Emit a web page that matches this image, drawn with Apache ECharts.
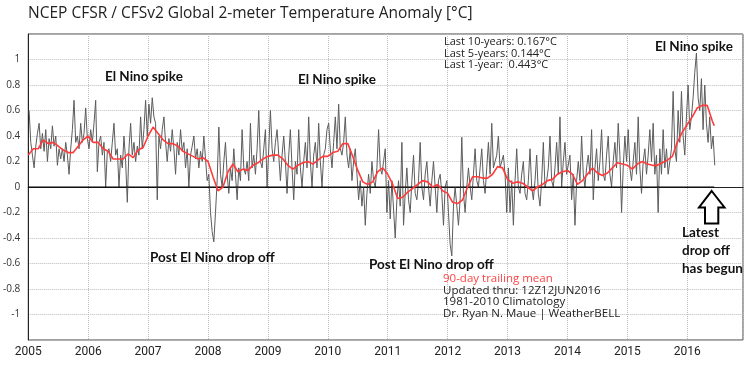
<!DOCTYPE html>
<html>
<head>
<meta charset="utf-8">
<script src="https://cdn.jsdelivr.net/npm/echarts@6/dist/echarts.min.js"></script>
<style>
body { margin: 0; padding: 0; background: #fff; }
#chart { width: 750px; height: 375px; }
</style>
</head>
<body>
<div id="chart"></div>
<script>
// gray trace: anomaly, 3 samples a month
const anom2005 = [0.60,0.35,0.25, 0.15,0.32,0.42, 0.50,0.30,0.42, 0.28,0.45,0.20, 0.38,0.30,0.48, 0.32,0.40,0.17, 0.30,0.22,0.30, 0.20,0.35,0.25, 0.10,0.30,0.45, 0.68,0.35,0.40, 0.30,0.50,0.35, 0.42,0.62,0.38]
const anom2006 = [0.30,0.45,0.35, 0.50,0.68,0.12, 0.35,0.40,0.25, 0.35,0.00,0.28, 0.30,0.20,0.35, 0.50,0.25,0.30, 0.00,0.25,0.15, 0.40,0.20,-0.12, 0.30,0.50,0.25, 0.35,0.20,0.32, 0.25,0.55,0.30, 0.45,0.68,0.40]
const anom2007 = [0.65,0.50,0.70, 0.55,0.50,-0.10, 0.40,0.30,0.45, 0.55,0.35,0.20, 0.38,0.28,0.45, 0.30,0.10,0.35, 0.25,0.45,0.28, 0.35,0.15,0.30, 0.00,0.25,0.32, 0.40,0.22,0.30, 0.15,0.28,0.20, 0.40,0.22,0.05]
const anom2008 = [0.10,-0.20,-0.35, -0.43,-0.20,0.05, 0.47,0.10,0.00, 0.20,0.35,0.10, -0.05,0.15,0.05, 0.30,0.10,-0.10, 0.15,0.05,0.45, 0.15,0.10,0.20, 0.05,0.50,0.15, 0.25,0.10,0.30, 0.60,0.20,0.15, 0.30,0.45,0.00]
const anom2009 = [0.30,0.60,0.30, 0.20,0.35,0.45, 0.25,0.05,0.25, 0.40,0.20,-0.05, 0.25,0.45,0.15, -0.10,0.20,0.10, 0.45,0.15,0.00, 0.20,0.35,0.15, 0.55,0.20,0.00, 0.25,0.35,0.15, 0.50,0.20,0.00, 0.25,0.30,0.45]
const anom2010 = [0.50,0.30,0.15, 0.35,0.55,0.30, 0.65,0.30,0.25, 0.35,0.55,0.25, 0.15,0.30,0.05, 0.20,0.30,0.10, -0.10,0.05,-0.15, 0.00,-0.30,-0.05, 0.10,-0.05,0.20, 0.05,0.00,0.15, 0.45,0.15,0.10, 0.20,0.30,-0.20]
const anom2011 = [0.05,-0.25,0.05, 0.05,-0.40,-0.10, 0.05,-0.15,0.35, -0.30,-0.05,0.15, -0.10,-0.20,0.05, 0.25,-0.05,-0.10, 0.05,0.35,0.00, -0.10,0.10,0.20, 0.00,-0.15,0.05, 0.20,0.00,-0.20, 0.05,0.10,-0.05, -0.30,0.00,0.05]
const anom2012 = [-0.20,-0.45,-0.54, -0.15,0.00,-0.15, -0.30,-0.10,0.39, -0.05,-0.20,0.00, 0.15,0.00,-0.10, 0.10,0.30,0.05, 0.00,0.15,0.30, 0.05,-0.05,0.15, 0.35,0.10,0.50, 0.15,0.20,0.25, 0.40,0.15,0.15, 0.25,0.10,-0.20]
const anom2013 = [0.15,-0.20,0.05, -0.30,0.05,0.30, 0.00,-0.05,0.10, 0.20,-0.05,-0.10, 0.05,0.30,0.00, -0.10,0.05,0.25, -0.05,-0.15,0.05, 0.35,0.00,0.05, 0.15,0.40,0.05, 0.00,0.15,0.35, 0.10,0.55,0.00, 0.20,0.35,0.10]
const anom2014 = [0.10,0.25,-0.10, 0.10,-0.30,0.05, 0.20,0.05,0.40, 0.10,0.00,0.15, 0.25,0.10,0.45, -0.10,0.15,0.30, 0.05,0.20,0.45, 0.10,0.05,0.25, 0.40,0.10,0.00, 0.20,0.35,0.15, 0.50,0.25,-0.20, 0.15,0.40,0.20]
const anom2015 = [0.45,0.15,0.05, 0.20,0.35,0.10, 0.55,0.15,-0.05, 0.20,0.30,0.10, 0.25,0.45,0.20, 0.50,0.10,0.25, -0.20,0.30,0.10, 0.45,0.15,0.30, 0.10,0.20,0.30, 0.75,0.30,0.20, 0.60,0.35,0.75, 0.40,0.25,0.55]
const anom2016 = [0.80,0.45,0.55, 0.70,0.90,1.05, 0.70,0.60,0.85, 0.45,0.80,0.50, 0.35,0.55,0.30, 0.40,0.17]

// red trace: 90-day trailing mean, one value at the start of each month
const mean2005 = [0.25,0.30,0.30,0.37,0.34,0.35,0.32,0.29,0.27,0.27,0.32,0.37]
const mean2006 = [0.40,0.35,0.35,0.30,0.28,0.22,0.22,0.22,0.26,0.23,0.29,0.31]
const mean2007 = [0.40,0.47,0.42,0.37,0.34,0.34,0.32,0.28,0.26,0.24,0.22,0.23]
const mean2008 = [0.20,0.08,-0.03,0.00,0.12,0.18,0.12,0.14,0.13,0.17,0.19,0.22]
const mean2009 = [0.24,0.25,0.25,0.22,0.17,0.14,0.17,0.19,0.20,0.18,0.21,0.24]
const mean2010 = [0.24,0.27,0.28,0.34,0.34,0.24,0.13,0.04,0.02,0.04,0.12,0.15]
const mean2011 = [0.10,0.02,-0.09,-0.08,-0.04,-0.01,0.02,0.05,0.04,0.00,0.02,-0.03]
const mean2012 = [-0.05,-0.12,-0.13,-0.10,0.00,0.08,0.08,0.07,0.07,0.10,0.16,0.15]
const mean2013 = [0.06,0.03,0.04,0.03,0.00,-0.03,0.00,0.02,0.05,0.06,0.10,0.12]
const mean2014 = [0.13,0.10,0.02,0.05,0.10,0.15,0.11,0.09,0.11,0.15,0.19,0.18]
const mean2015 = [0.17,0.14,0.18,0.20,0.18,0.17,0.17,0.19,0.21,0.24,0.35,0.43]
const mean2016 = [0.49,0.55,0.62,0.64,0.64,0.52]
const meanLast = [2016.45, 0.48]

const zeroLineYears = [2005, 2016.45]
const yearTicks = [2005, 2006, 2007, 2008, 2009, 2010, 2011, 2012, 2013, 2014, 2015, 2016]

const anomByYear = [anom2005, anom2006, anom2007, anom2008, anom2009, anom2010, anom2011, anom2012, anom2013, anom2014, anom2015, anom2016]
const meanByYear = [mean2005, mean2006, mean2007, mean2008, mean2009, mean2010, mean2011, mean2012, mean2013, mean2014, mean2015, mean2016]

const grayData = []
anomByYear.forEach((arr, i) => {
  arr.forEach((v, k) => grayData.push([yearTicks[i] + (k + 0.5) / 36, v]))
})
const redData = []
meanByYear.forEach((arr, i) => {
  arr.forEach((v, m) => redData.push([yearTicks[i] + m / 12, v]))
})
redData.push(meanLast)

const chart = echarts.init(document.getElementById('chart'))

const boldFont = 'bold 13.5px Lato'
const smallFont = '11px "Open Sans"'
const noteFont = '11.5px "Open Sans"'

// helper for the plain text labels drawn on top of the chart
const label = (x, y, text, font, fill) => ({
  type: 'text', x, y, z: 10,
  style: { text, font, fill, textVerticalAlign: 'middle', verticalAlign: 'middle' }
})

chart.setOption({
  animation: false,
  backgroundColor: '#fff',
  grid: {
    left: 27, right: 7, top: 34, bottom: 35,
    show: true, borderColor: '#444', borderWidth: 1
  },
  xAxis: {
    type: 'value',
    min: 2005,
    max: 2016.93,
    interval: 1,
    axisLine: { show: true, lineStyle: { color: '#222' } },
    axisTick: { show: false },
    axisLabel: {
      showMaxLabel: false,
      color: '#222', fontSize: 12, fontFamily: 'Roboto', margin: 6,
      formatter: v => String(v)
    },
    splitLine: { show: true, lineStyle: { type: 'dotted', color: '#bbb' } }
  },
  yAxis: {
    type: 'value',
    min: -1.2,
    max: 1.2,
    interval: 0.2,
    axisLine: { show: true, lineStyle: { color: '#222' } },
    axisTick: { show: false },
    axisLabel: {
      color: '#333', fontSize: 10, fontFamily: 'Open Sans', margin: 8,
      formatter: v => Math.abs(v) > 1.1 ? '' : String(Math.round(v * 10) / 10)
    },
    splitLine: { show: true, lineStyle: { type: 'dotted', color: '#bbb' } }
  },
  series: [
    {
      type: 'line',
      data: grayData,
      showSymbol: false,
      lineStyle: { color: '#5c5c5c', width: 1 },
      z: 2
    },
    {
      type: 'line',
      data: zeroLineYears.map(y => [y, 0]),
      showSymbol: false,
      lineStyle: { color: '#000', width: 1 },
      z: 3
    },
    {
      type: 'line',
      data: redData,
      showSymbol: false,
      lineStyle: { color: '#ff3b3b', width: 1.6 },
      z: 4
    }
  ],
  graphic: [
    label(28, 14, 'NCEP CFSR / CFSv2 Global 2-meter Temperature Anomaly [°C]', '15.5px "Open Sans"', '#222'),
    label(444, 42, 'Last 10-years: 0.167°C', smallFont, '#222'),
    label(444, 53.5, 'Last 5-years: 0.144°C', smallFont, '#222'),
    label(444, 65, 'Last 1-year:  0.443°C', smallFont, '#222'),
    label(443, 279, '90-day trailing mean', noteFont, '#ff4444'),
    label(443, 290.5, 'Updated thru: 12Z12JUN2016', noteFont, '#222'),
    label(443, 302, '1981-2010 Climatology', noteFont, '#222'),
    label(443, 313.5, 'Dr. Ryan N. Maue | WeatherBELL', noteFont, '#222'),
    label(105, 77, 'El Nino spike', boldFont, '#111'),
    label(298, 80, 'El Nino spike', boldFont, '#111'),
    label(655, 47, 'El Nino spike', boldFont, '#111'),
    label(150, 258, 'Post El Nino drop off', boldFont, '#111'),
    label(369, 265, 'Post El Nino drop off', boldFont, '#111'),
    label(682, 233, 'Latest', boldFont, '#111'),
    label(682, 251, 'drop off', boldFont, '#111'),
    label(682, 269, 'has begun', boldFont, '#111'),
    {
      type: 'polygon',
      shape: { points: [[711.7, 191], [724.5, 207.5], [718.3, 207.5], [718.3, 223.5], [705, 223.5], [705, 207.5], [699, 207.5]] },
      style: { fill: '#fff', stroke: '#000', lineWidth: 2 },
      z: 10
    }
  ]
})
</script>
</body>
</html>
